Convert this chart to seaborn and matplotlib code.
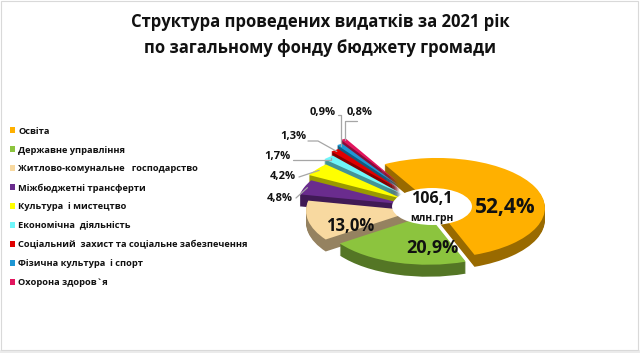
import numpy as np
import matplotlib
matplotlib.use("Agg")
import matplotlib.pyplot as plt
import seaborn as sns
from matplotlib.patches import Ellipse, Rectangle
from matplotlib.colors import to_rgb

sns.set_theme(style="white")
plt.rcParams["font.family"] = ["Open Sans", "DejaVu Sans"]

# ---------------- data ----------------
title_lines = ["Структура проведених видатків за 2021 рік",
               "по загальному фонду бюджету громади"]
categories = ["Освіта", "Державне управління", "Житлово-комунальне   господарство",
              "Міжбюджетні трансферти", "Культура  і мистецтво", "Економічна  діяльність",
              "Соціальний  захист та соціальне забезпечення", "Фізична культура  і спорт",
              "Охорона здоров`я"]
shares = [52.4, 20.9, 13.0, 4.8, 4.2, 1.7, 1.3, 0.9, 0.8]
share_labels = ["52,4%", "20,9%", "13,0%", "4,8%", "4,2%", "1,7%", "1,3%", "0,9%", "0,8%"]
total_value = "106,1"
total_unit = "млн.грн"
colors = ["#FFB000", "#8CC43E", "#F8D9A0", "#6A2C8E", "#FFFF00",
          "#6FF6FA", "#E00000", "#1E97D4", "#E2155E"]

# ---------------- layout ----------------
W, H = 640, 353
cx, cy = 432, 209          # pixel center of the donut
rx, ry = 108, 50           # pixel radii (flattened, 3D look)
explode = [0.05, 0.12, 0.17, 0.26, 0.33, 0.41, 0.48, 0.55, 0.62]
start = 119
depth = 12

fig = plt.figure(figsize=(6.4, 3.53), dpi=100)
fig.patch.set_facecolor("white")
ax = fig.add_axes([0, 0, 1, 1])


def px(x, y):
    return ((x - cx) / rx, (cy - y) / ry)


side_cols = [tuple(np.array(to_rgb(c)) * 0.6) for c in colors]
for k in range(depth, 0, -1):
    ax.pie(shares, explode=explode, colors=side_cols, startangle=start,
           counterclock=False, center=(0, -k / ry), radius=1,
           wedgeprops=dict(linewidth=0))
wedges, _ = ax.pie(shares, explode=explode, colors=colors, startangle=start,
                   counterclock=False, center=(0, 0), radius=1,
                   wedgeprops=dict(linewidth=0))

ax.set_aspect("auto")
ax.set_xlim(-cx / rx, (W - cx) / rx)
ax.set_ylim(-(H - cy) / ry, cy / ry)
ax.axis("off")

# hole
ax.add_patch(Ellipse(px(432, 206.5), 0.74, 0.74, facecolor="white",
                     edgecolor="none", zorder=5))
ax.text(*px(432, 199), total_value, ha="center", va="center", fontsize=11.5,
        fontweight="bold", color="#111111", zorder=6)
ax.text(*px(432, 218), total_unit, ha="center", va="center", fontsize=7.5,
        fontweight="bold", color="#111111", zorder=6)

# inside labels
inside_pos = [(505, 207), (432, 248), (350, 226)]
inside_size = [15, 13, 12]
for i, (p, s) in enumerate(zip(inside_pos, inside_size)):
    ax.text(*px(*p), share_labels[i], ha="center", va="center", fontsize=s,
            fontweight="bold", color="#111111", zorder=6)

# outside labels with leader lines to the outer edge of each small wedge
out_pos = [(280, 199), (283, 176), (277, 157), (293, 137), (323, 113), (360, 113)]
anchors = [(296, 198), (299, 177), (293, 160), (308, 141), (338, 115), (357, 121)]
elbows = [None, None, "h", "h10", "v", "v"]
for j, (p, a, e) in enumerate(zip(out_pos, anchors, elbows)):
    i = j + 3
    ax.text(*px(*p), share_labels[i], ha="center", va="center", fontsize=8,
            fontweight="bold", color="#111111", zorder=6)
    w = wedges[i]
    th = np.deg2rad((w.theta1 + w.theta2) / 2)
    end = (w.center[0] + 0.97 * w.r * np.cos(th), w.center[1] + 0.97 * w.r * np.sin(th))
    a_d = px(*a)
    pts = [a_d]
    if e == "h10":
        pts.append(px(a[0] + 10, a[1]))
    elif e == "v":
        pts.append((end[0], a_d[1]))
    elif e == "h":
        pts.append((end[0], a_d[1]))
    pts.append(end)
    xs, ys = zip(*pts)
    ax.plot(xs, ys, color="#A6A6A6", lw=0.9, zorder=4)

# title
fig.text(0.5, 1 - 22 / H, title_lines[0], ha="center", va="center",
         fontsize=12, fontweight="bold", color="#111111")
fig.text(0.5, 1 - 48 / H, title_lines[1], ha="center", va="center",
         fontsize=12, fontweight="bold", color="#111111")

# legend
leg = ax.legend(wedges, categories, loc="upper left",
                bbox_to_anchor=(6 / W, 1 - 123 / H), bbox_transform=fig.transFigure,
                frameon=False, fontsize=6.7, handlelength=0.6, handleheight=0.6,
                handletextpad=0.3, labelspacing=1.06, borderaxespad=0)
for t in leg.get_texts():
    t.set_color("#111111")
    t.set_fontweight("bold")

# frame
fig.patches.append(Rectangle((0, 0), 1, 3 / H, transform=fig.transFigure,
                             facecolor="#EBEBEB", edgecolor="none", zorder=0))
fig.patches.append(Rectangle((0.5 / W, 3 / H), 1 - 3 / W, 1 - 3.5 / H,
                             transform=fig.transFigure, facecolor="none",
                             edgecolor="#D9D9D9", lw=0.8, zorder=0))

fig.savefig("out.png", dpi=100)
